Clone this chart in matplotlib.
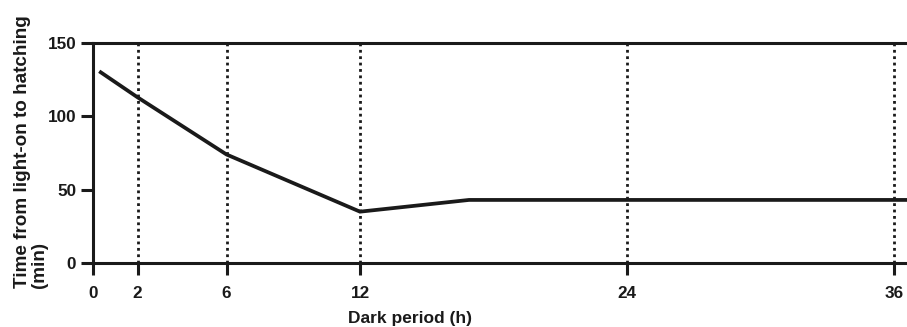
import numpy as np
import matplotlib
matplotlib.use("Agg")
import matplotlib.pyplot as plt

plt.rcParams['font.family'] = ['Liberation Sans', 'DejaVu Sans']
plt.rcParams['font.weight'] = 'bold'

# data
dark_h = [0.35, 2, 6, 12, 16.9, 36.7]
hatch_min = [130, 113, 74, 35, 43, 43]
vlines_h = [2, 6, 12, 24, 36]
xticks = [0, 2, 6, 12, 24, 36]
yticks = [0, 50, 100, 150]

W, H = 907, 327
fig = plt.figure(figsize=(W / 100, H / 100), dpi=100)

# pixel layout: x=0 at 93px, 36 at 894px; y=0 at 263px, 150 at 43px
x0, x36 = 93, 894
xmax = 40
pxh = (x36 - x0) / 36.0
left = x0 / W
width = (xmax * pxh) / W
bottom = (H - 263) / H
height = (263 - 43) / H
ax = fig.add_axes([left, bottom, width, height])

for xv in vlines_h:
    ax.plot([xv, xv], [0, 150], color='#1a1a1a', lw=2.0, ls=(0, (1, 1.3)),
            dash_capstyle='butt', zorder=1)

ax.plot(dark_h, hatch_min, color='#1a1a1a', lw=2.7, solid_joinstyle='miter', zorder=3)

ax.set_xlim(0, xmax)
ax.set_ylim(0, 150)
ax.set_xticks(xticks)
ax.set_yticks(yticks)
ax.tick_params(axis='both', direction='out', length=8.5, width=2.2, labelsize=12.3,
               colors='#1a1a1a')
ax.tick_params(axis='x', pad=8)
ax.tick_params(axis='y', pad=3.5)
for s in ['left', 'bottom', 'top']:
    ax.spines[s].set_linewidth(2.2)
    ax.spines[s].set_color('#1a1a1a')
ax.spines['right'].set_visible(False)
for lab in ax.get_xticklabels() + ax.get_yticklabels():
    lab.set_fontweight('bold')

fig.text(31 / W, 1 - 288 / H, 'Time from light-on to hatching\n(min)', rotation=90,
         ha='center', va='bottom', multialignment='left', fontsize=13.6,
         fontweight='bold', color='#1a1a1a', linespacing=1.0)
fig.text(410 / W, 1 - 318 / H, 'Dark period (h)', ha='center', va='center',
         fontsize=12.5, fontweight='bold', color='#1a1a1a')

fig.savefig('out.png', dpi=100)
